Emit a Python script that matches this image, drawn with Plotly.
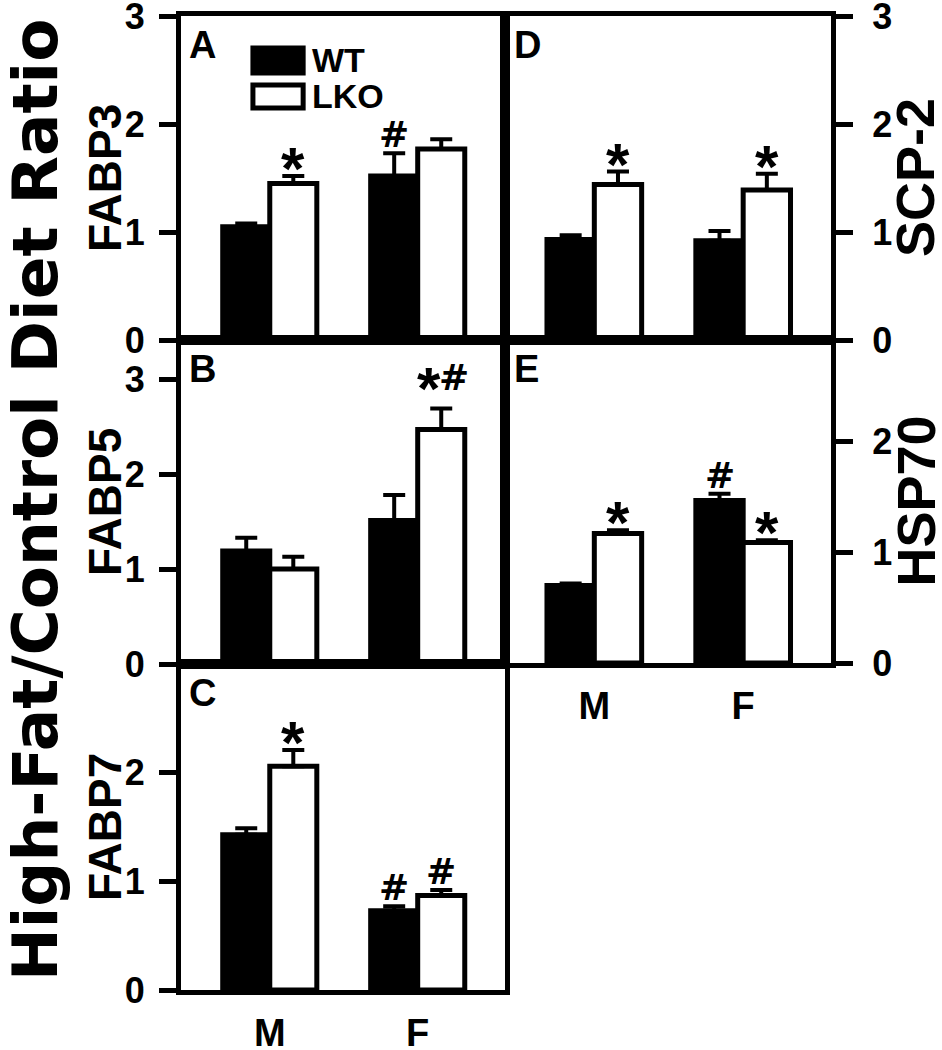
import plotly.graph_objects as go

groups = ["M", "F"]

# panel values: (WT mean, WT SEM, LKO mean, LKO SEM)
fabp3_wt = [1.05, 1.52]
fabp3_wt_err = [0.03, 0.21]
fabp3_lko = [1.45, 1.77]
fabp3_lko_err = [0.07, 0.09]

fabp5_wt = [1.19, 1.51]
fabp5_wt_err = [0.14, 0.27]
fabp5_lko = [1.00, 2.47]
fabp5_lko_err = [0.13, 0.22]

fabp7_wt = [1.43, 0.73]
fabp7_wt_err = [0.06, 0.04]
fabp7_lko = [2.06, 0.87]
fabp7_lko_err = [0.15, 0.05]

scp2_wt = [0.93, 0.92]
scp2_wt_err = [0.04, 0.09]
scp2_lko = [1.44, 1.39]
scp2_lko_err = [0.12, 0.15]

hsp70_wt = [0.70, 1.47]
hsp70_wt_err = [0.02, 0.06]
hsp70_lko = [1.17, 1.09]
hsp70_lko_err = [0.03, 0.02]

# significance marks: (group index, genotype, label)
marks_a = [(0, "LKO", "*"), (1, "WT", "#")]
marks_b = [(1, "LKO", "*#")]
marks_c = [(0, "LKO", "*"), (1, "WT", "#"), (1, "LKO", "#")]
marks_d = [(0, "LKO", "*"), (1, "LKO", "*")]
marks_e = [(0, "LKO", "*"), (1, "WT", "#"), (1, "LKO", "*")]

W, H = 942, 1050
FONT = "Liberation Sans, Arial, sans-serif"
HEAVY = "DejaVu Sans, sans-serif"
BAR_W = 0.318


def px_x(p):
    return p / W


def px_y(p):
    return 1 - p / H


panels = [
    # letter, axis id, x px span, y px span (top, bottom), y max, ticks, side, data, marks, title, x labels
    ("A", "", (181, 505), (16, 340), 3.0, [0, 1, 2, 3], "left",
     (fabp3_wt, fabp3_wt_err, fabp3_lko, fabp3_lko_err), marks_a, "FABP3", False),
    ("B", "2", (181, 505), (340, 664), 3.41, [0, 1, 2, 3], "left",
     (fabp5_wt, fabp5_wt_err, fabp5_lko, fabp5_lko_err), marks_b, "FABP5", False),
    ("C", "3", (181, 505), (664, 990), 3.0, [0, 1, 2], "left",
     (fabp7_wt, fabp7_wt_err, fabp7_lko, fabp7_lko_err), marks_c, "FABP7", True),
    ("D", "4", (505, 831), (16, 340), 3.0, [0, 1, 2, 3], "right",
     (scp2_wt, scp2_wt_err, scp2_lko, scp2_lko_err), marks_d, "SCP-2", False),
    ("E", "5", (505, 831), (340, 663), 2.92, [0, 1, 2], "right",
     (hsp70_wt, hsp70_wt_err, hsp70_lko, hsp70_lko_err), marks_e, "HSP70", True),
]

fig = go.Figure()
layout = dict(
    width=W, height=H,
    margin=dict(l=0, r=0, t=0, b=0, autoexpand=False),
    paper_bgcolor="white", plot_bgcolor="white",
    showlegend=False,
    barmode="group", bargap=1 - 2 * BAR_W, bargroupgap=0,
    font=dict(family=FONT, color="black", weight="bold"),
)
annotations = []
shapes = []

for letter, ax, xd, yd, ymax, yticks, side, data, marks, title, show_x in panels:
    wt, wt_err, lko, lko_err = data
    left = side == "left"
    xs = [0, 1]
    for name, vals, errs, fill in [("WT", wt, wt_err, "black"), ("LKO", lko, lko_err, "white")]:
        fig.add_trace(go.Bar(
            x=xs, y=vals, name=name, xaxis="x" + ax, yaxis="y" + ax,
            marker=dict(color=fill, line=dict(color="black", width=5)),
            error_y=dict(type="data", array=errs, arrayminus=[0] * len(errs), symmetric=False,
                         color="black", thickness=4, width=11),
            offsetgroup=name,
        ))
    layout["xaxis" + ax] = dict(
        domain=[px_x(xd[0]), px_x(xd[1])], anchor="y" + ax, automargin=False,
        range=[-0.6, 1.59], showline=True, linewidth=5, linecolor="black", mirror=True,
        showgrid=False, zeroline=False, ticks="",
        tickvals=xs, ticktext=groups, showticklabels=show_x,
        tickfont=dict(size=38, family=FONT, weight="bold"), ticklabelstandoff=5,
    )
    layout["yaxis" + ax] = dict(
        domain=[px_y(yd[1]), px_y(yd[0])], anchor="x" + ax, side=side, automargin=False,
        range=[0, ymax + 0.001], showline=True, linewidth=5, linecolor="black", mirror=True,
        showgrid=False, zeroline=False, ticks="outside", ticklen=17, tickwidth=5,
        tickcolor="black", tickvals=yticks, ticklabeloverflow="allow",
        tickfont=dict(size=36, family=FONT, weight="bold"),
        ticklabelstandoff=7 if left else 12,
    )
    # panel letter
    annotations.append(dict(
        text=letter, xref="x" + ax + " domain", yref="y" + ax + " domain",
        x=0.02, y=0.91, xanchor="left", yanchor="middle", showarrow=False,
        font=dict(size=38, family=FONT, weight="bold"),
    ))
    # axis title
    annotations.append(dict(
        text=title, xref="paper", yref="paper",
        x=px_x(105 if left else 915), y=px_y((yd[0] + yd[1]) / 2),
        xanchor="center", yanchor="middle", textangle=-90, showarrow=False,
        font=dict(size=46 if left else 54, family=FONT, weight="bold"),
    ))
    # significance marks, one annotation per symbol
    for gi, geno, lab in marks:
        if geno == "WT":
            top = wt[gi] + wt_err[gi]
            xo = xs[gi] - BAR_W / 2
        else:
            top = lko[gi] + lko_err[gi]
            xo = xs[gi] + BAR_W / 2
        n = len(lab)
        for i, ch in enumerate(lab):
            star = ch == "*"
            raise_px = 12 if n > 1 else 0
            annotations.append(dict(
                text=ch, xref="x" + ax, yref="y" + ax, x=xo, y=top,
                xanchor="center", yanchor="bottom", showarrow=False,
                xshift=(i - (n - 1) / 2) * 25,
                yshift=(-28 if star else -4) + raise_px,
                font=dict(size=60, family=FONT, weight="bold") if star
                else dict(size=36, family=HEAVY, weight="bold"),
            ))

# legend drawn inside panel A
shapes.append(dict(type="rect", xref="x domain", yref="y domain",
                   x0=0.222, x1=0.377, y0=0.824, y1=0.901,
                   fillcolor="black", line=dict(color="black", width=5)))
shapes.append(dict(type="rect", xref="x domain", yref="y domain",
                   x0=0.222, x1=0.377, y0=0.716, y1=0.787,
                   fillcolor="white", line=dict(color="black", width=5)))
for txt, yy in [("WT", 0.864), ("LKO", 0.753)]:
    annotations.append(dict(
        text=txt, xref="x domain", yref="y domain", x=0.398, y=yy,
        xanchor="left", yanchor="middle", showarrow=False,
        font=dict(size=34, family=FONT, weight="bold"),
    ))

# overall y title
annotations.append(dict(
    text="High-Fat/Control Diet Ratio", xref="paper", yref="paper",
    x=px_x(35), y=px_y(500), xanchor="center", yanchor="middle", textangle=-90,
    showarrow=False, font=dict(size=63, family=HEAVY, weight="bold"),
))

layout["annotations"] = annotations
layout["shapes"] = shapes
fig.update_layout(**layout)
fig.write_html("out.html", config={"displayModeBar": False},
               post_script="document.body.style.margin='0';")
